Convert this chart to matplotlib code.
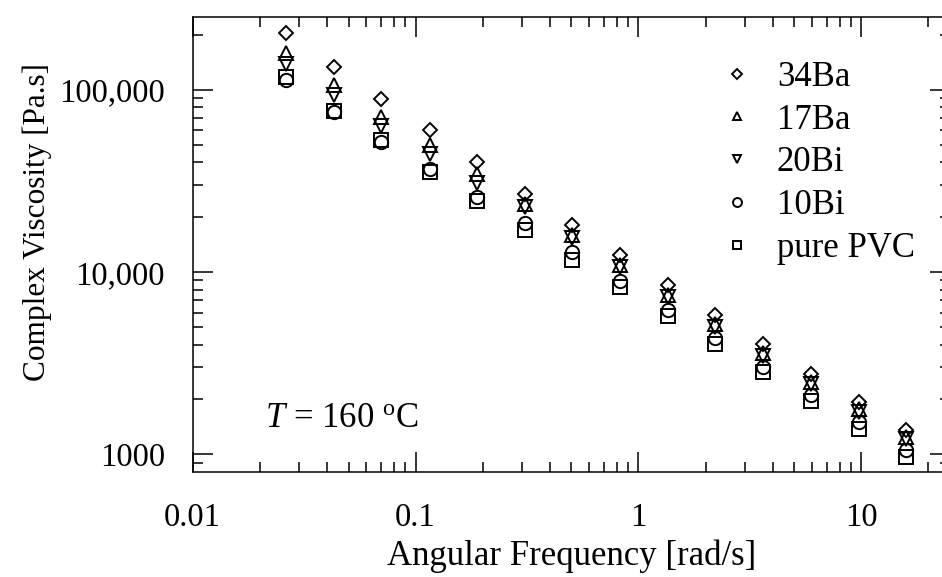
"""Complex viscosity vs angular frequency at 160 C."""

import matplotlib

matplotlib.use("Agg")
from matplotlib import pyplot as plt
from matplotlib import ticker

plt.rcParams["font.family"] = ["Liberation Serif", "DejaVu Serif"]
plt.rcParams["mathtext.fontset"] = "custom"
plt.rcParams["mathtext.rm"] = "Liberation Serif"
plt.rcParams["mathtext.it"] = "Liberation Serif:italic"

# Angular frequency [rad/s]
freq = [0.0262, 0.0432, 0.0699, 0.116, 0.188, 0.311, 0.504,
        0.824, 1.35, 2.21, 3.62, 5.93, 9.72, 15.9]

# Complex viscosity [Pa.s]
visc_34ba = [204800, 134100, 88700, 60000, 40100, 26800, 18100,
             12400, 8490, 5810, 4030, 2760, 1930, 1360]
visc_17ba = [158600, 106000, 71100, 50000, 34500, 23700, 16000,
             10900, 7480, 5190, 3580, 2500, 1770, 1250]
visc_20bi = [139000, 93300, 63000, 44200, 30800, 22900, 15300,
             10600, 7270, 5010, 3470, 2430, 1710, 1210]
visc_10bi = [113000, 75900, 52000, 37000, 25800, 18700, 12900,
             8980, 6200, 4340, 3030, 2110, 1500, 1057]
visc_pvc = [118000, 76900, 53100, 35600, 24700, 17100, 11600,
            8250, 5770, 4030, 2820, 1970, 1380, 970]

series = [
    ("34Ba", visc_34ba, "D", 7.2),
    ("17Ba", visc_17ba, "^", 9.6),
    ("20Bi", visc_20bi, "v", 9.6),
    ("10Bi", visc_10bi, "o", 9.6),
    ("pure PVC", visc_pvc, "s", 9.4),
]

fig = plt.figure(figsize=(9.42, 5.77), dpi=100)
ax = fig.add_axes([0.2046, 0.1825, 0.8039, 0.7886])

for label, values, marker, size in series:
    ax.plot(freq, values, linestyle="none", marker=marker, markersize=size,
            markerfacecolor="none", markeredgecolor="black",
            markeredgewidth=1.4, label=label)

ax.set_xscale("log")
ax.set_yscale("log")
ax.set_xlim(0.01, 25)
ax.set_ylim(803, 252000)

ax.xaxis.set_major_locator(ticker.FixedLocator([0.01, 0.1, 1, 10]))
ax.xaxis.set_major_formatter(ticker.FixedFormatter(["0.01", "0.1", "1", "10"]))
ax.yaxis.set_major_locator(ticker.FixedLocator([1000, 10000, 100000]))
ax.yaxis.set_major_formatter(ticker.FixedFormatter(["1000", "10,000", "100,000"]))
ax.xaxis.set_minor_locator(ticker.LogLocator(base=10, subs=range(2, 10), numticks=20))
ax.yaxis.set_minor_locator(ticker.LogLocator(base=10, subs=range(2, 10), numticks=20))
ax.xaxis.set_minor_formatter(ticker.NullFormatter())
ax.yaxis.set_minor_formatter(ticker.NullFormatter())

ax.tick_params(which="both", direction="in", top=True, right=True,
               width=1.1, labelsize=23.5)
ax.tick_params(which="major", length=14.4)
ax.tick_params(which="minor", length=7.2)
ax.tick_params(axis="y", which="major", pad=20)
ax.tick_params(axis="x", which="major", pad=22)
for spine in ax.spines.values():
    spine.set_linewidth(1.1)

ax.set_xlabel("Angular Frequency [rad/s]", fontsize=25, labelpad=5)
ax.set_ylabel("Complex Viscosity [Pa.s]", fontsize=22.5)
ax.yaxis.set_label_coords(-0.186, 0.549)

ax.text(0.0955, 0.098, "$T$ = 160 $^{\\mathrm{o}}$C", transform=ax.transAxes,
        fontsize=25, ha="left", va="baseline")

ax.legend(loc="upper left", bbox_to_anchor=(0.764, 0.8946),
          bbox_transform=fig.transFigure, frameon=False, fontsize=25,
          markerscale=0.67, handlelength=1.0, handletextpad=0.65,
          borderpad=0, borderaxespad=0, labelspacing=0.28)

fig.savefig("out.png", dpi=100)
